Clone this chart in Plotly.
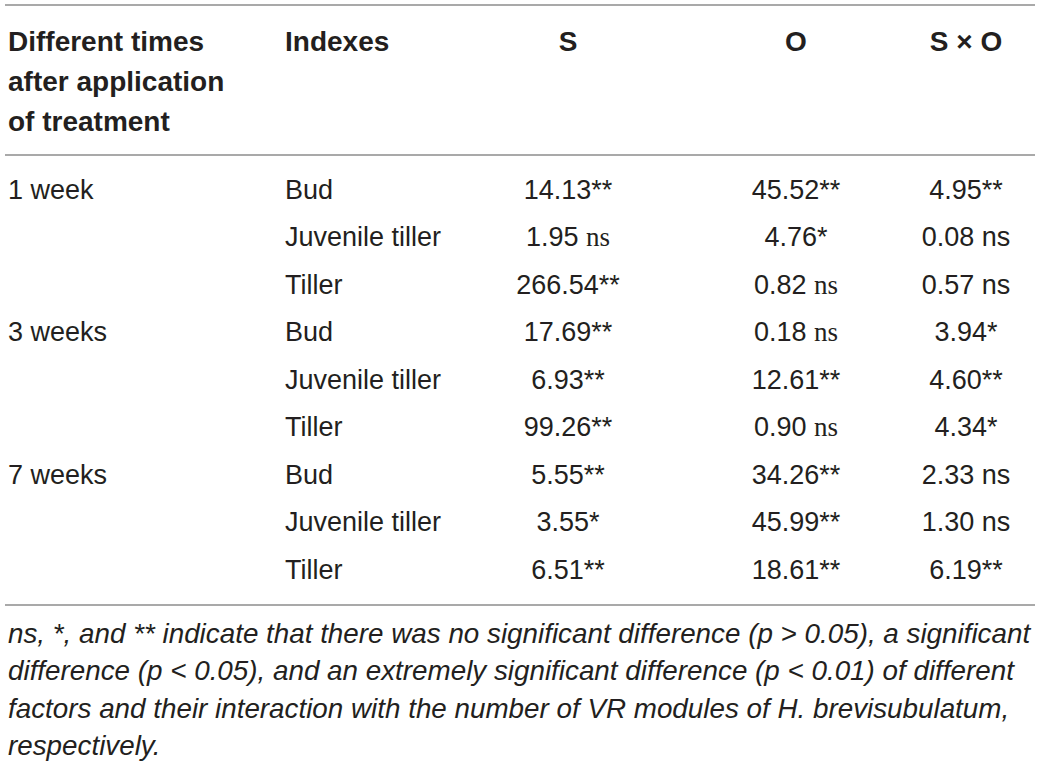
import plotly.graph_objects as go

# ---------------- data ----------------
header_time = ["Different times", "after application", "of treatment"]
header_cols = ["Indexes", "S", "O", "S \u00d7 O"]

times = ["1 week", "", "", "3 weeks", "", "", "7 weeks", "", ""]
indexes = ["Bud", "Juvenile tiller", "Tiller",
           "Bud", "Juvenile tiller", "Tiller",
           "Bud", "Juvenile tiller", "Tiller"]
S_vals = [14.13, 1.95, 266.54, 17.69, 6.93, 99.26, 5.55, 3.55, 6.51]
S_sig = ["**", "ns", "**", "**", "**", "**", "**", "*", "**"]
O_vals = [45.52, 4.76, 0.82, 0.18, 12.61, 0.90, 34.26, 45.99, 18.61]
O_sig = ["**", "*", "ns", "ns", "**", "ns", "**", "**", "**"]
SO_vals = [4.95, 0.08, 0.57, 3.94, 4.60, 4.34, 2.33, 1.30, 6.19]
SO_sig = ["**", "ns", "ns", "*", "**", "*", "ns", "ns", "**"]

footnote = [
    "ns, *, and ** indicate that there was no significant difference (p &gt; 0.05), a significant",
    "difference (p &lt; 0.05), and an extremely significant difference (p &lt; 0.01) of different",
    "factors and their interaction with the number of VR modules of H. brevisubulatum,",
    "respectively.",
]

# ---------------- layout constants ----------------
W, H = 1040, 766
TEXT = "#231f20"
RULE = "#8c8c8c"
SANS = "Liberation Sans, Arial, sans-serif"
SERIF = "Liberation Serif, Times New Roman, serif"
FS = 27
FS_HEAD = 28
FS_FOOT = 27.8

x_time, x_idx = 8, 285
x_S, x_O, x_SO = 568, 796, 966
header_y = [44, 84, 124]
row_y0, row_dy = 192, 47.5
foot_y0, foot_dy = 636, 37.5
rule_ys = [5, 155, 605]


def fmt(v, sig, serif_ns):
    s = f"{v:.2f}"
    if sig == "ns":
        if serif_ns:
            return s + f' <span style="font-family:{SERIF}">ns</span>'
        return s + " ns"
    return s + sig


row_y = [row_y0 + i * row_dy for i in range(len(indexes))]

fig = go.Figure()


def add_text(xs, ys, texts, pos, size=FS, **extra):
    fig.add_trace(go.Scatter(
        x=xs, y=ys, text=texts, mode="text", textposition=pos,
        textfont=dict(family=SANS, size=size, color=TEXT, **extra),
        hoverinfo="skip", showlegend=False))


# header
add_text([x_time] * len(header_time), header_y, [f"<b>{t}</b>" for t in header_time],
         "middle right", FS_HEAD)
add_text([x_idx], [header_y[0]], [f"<b>{header_cols[0]}</b>"], "middle right", FS_HEAD)
add_text([x_S, x_O, x_SO], [header_y[0]] * 3, [f"<b>{c}</b>" for c in header_cols[1:]],
         "middle center", FS_HEAD)

# body
add_text([x_time] * len(times), row_y, times, "middle right")
add_text([x_idx] * len(indexes), row_y, indexes, "middle right")
for xc, vals, sigs, serif_ns in [(x_S, S_vals, S_sig, True),
                                  (x_O, O_vals, O_sig, True),
                                  (x_SO, SO_vals, SO_sig, False)]:
    add_text([xc] * len(vals), row_y,
             [fmt(v, s, serif_ns) for v, s in zip(vals, sigs)], "middle center")

# footnote
add_text([x_time] * len(footnote), [foot_y0 + i * foot_dy for i in range(len(footnote))],
         footnote, "middle right", FS_FOOT, style="italic")

for yy in rule_ys:
    fig.add_shape(type="line", x0=5, x1=1035, y0=yy, y1=yy,
                  line=dict(color=RULE, width=1.5), layer="below")

fig.update_layout(
    width=W, height=H, margin=dict(l=0, r=0, t=0, b=0),
    paper_bgcolor="white", plot_bgcolor="white",
    xaxis=dict(range=[0, W], visible=False, fixedrange=True),
    yaxis=dict(range=[H, 0], visible=False, fixedrange=True),
)

fig.write_html("out.html", config={"displayModeBar": False},
               post_script="document.body.style.margin='0';")
